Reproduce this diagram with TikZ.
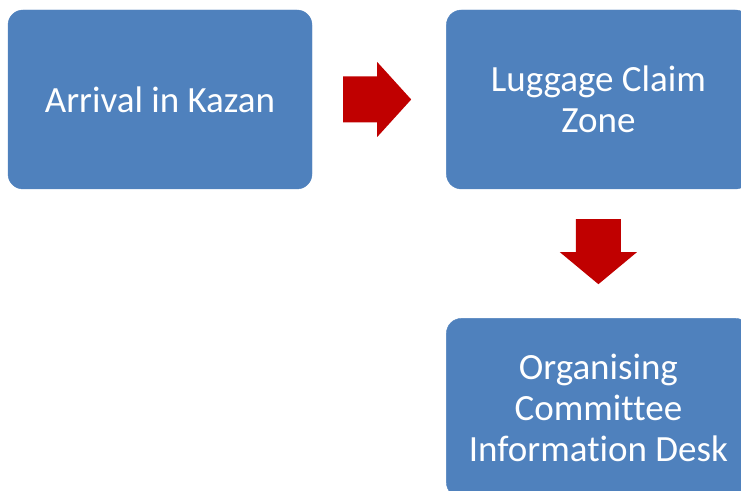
\documentclass[tikz,border=0pt]{standalone}
\usepackage{fontspec}
\setmainfont{Carlito}[Ligatures=NoCommon]
\usetikzlibrary{positioning}
\definecolor{boxblue}{HTML}{4F81BD}
\definecolor{arrowred}{HTML}{C00000}

\begin{document}
\begin{tikzpicture}[x=1pt, y=1pt,
  stage/.style={rectangle, rounded corners=15pt, fill=boxblue, draw=boxblue,
    text=white, align=center, minimum width=304pt, minimum height=179pt,
    inner sep=0pt, font=\fontsize{37}{41}\selectfont}]
\useasboundingbox (0,0) rectangle (741,490);
\clip (0,0) rectangle (741,490);
\node[stage] (arrival) at (160,390.5) {Arrival in Kazan};
\node[stage, right=134pt of arrival] (claim) {Luggage Claim\\Zone};
\node[stage, below=129pt of claim] (desk) {Organising\\Committee\\Information Desk};
\fill[arrowred, shift={(arrival.east)}] (31,23) -- (65,23) -- (65,37.5) -- (99,0) -- (65,-37.5) -- (65,-23) -- (31,-23) -- cycle;
\fill[arrowred, shift={(claim.south)}] (-22.5,-30) -- (22.5,-30) -- (22.5,-63) -- (38.5,-63) -- (0,-95) -- (-38.5,-63) -- (-22.5,-63) -- cycle;
\end{tikzpicture}
\end{document}
